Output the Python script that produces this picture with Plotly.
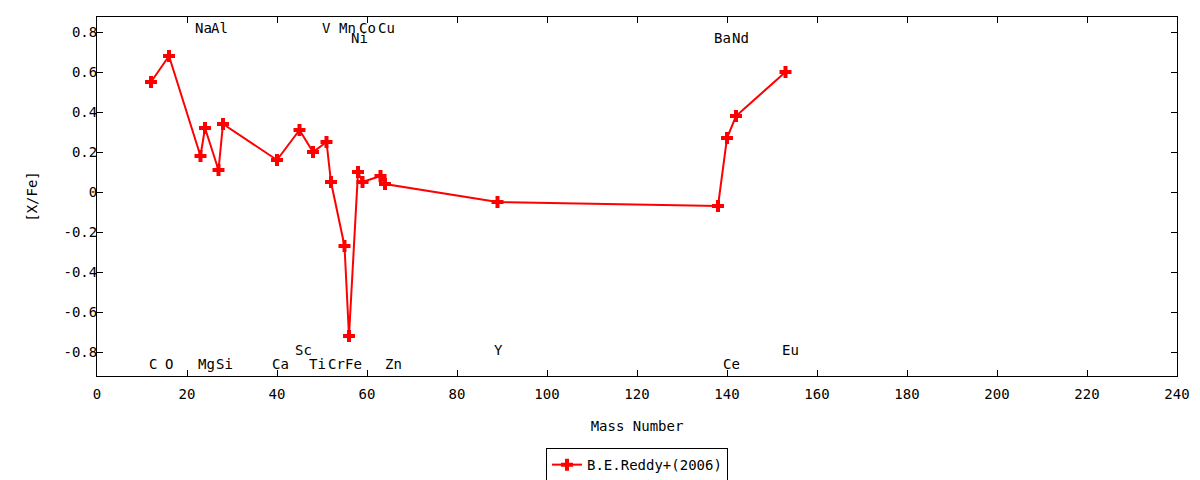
import plotly.graph_objects as go

# Data: mass number vs [X/Fe]
mass = [12, 16, 23, 24, 27, 28, 40, 45, 48, 51, 52, 55, 56, 58, 59, 63, 64, 89, 138, 140, 142, 153]
xfe = [0.55, 0.68, 0.18, 0.32, 0.11, 0.34, 0.16, 0.31, 0.20, 0.25, 0.05, -0.27, -0.72,
       0.10, 0.05, 0.08, 0.04, -0.05, -0.07, 0.27, 0.38, 0.60]

# Element labels
label_text = ["Na", "Al", "V", "Mn", "Co", "Cu",
              "Ni", "Ba", "Nd",
              "C", "O", "Mg", "Si", "Ca", "Ti", "Cr", "Fe", "Zn", "Ce",
              "Sc", "Y", "Eu"]
label_x = [23.6, 27.3, 51.1, 55.6, 60.0, 64.4,
           58.4, 138.9, 142.9,
           12.4, 16.0, 24.4, 28.4, 40.7, 49.0, 53.3, 57.0, 65.8, 141.1,
           45.8, 89.3, 154.2]
label_y = [0.82, 0.82, 0.82, 0.82, 0.82, 0.82,
           0.77, 0.77, 0.77,
           -0.86, -0.86, -0.86, -0.86, -0.86, -0.86, -0.86, -0.86, -0.86, -0.86,
           -0.79, -0.79, -0.79]

x_ticks = list(range(0, 241, 20))
y_ticks = [-0.8, -0.6, -0.4, -0.2, 0, 0.2, 0.4, 0.6, 0.8]
y_tick_text = ["-0.8", "-0.6", "-0.4", "-0.2", "0", "0.2", "0.4", "0.6", "0.8"]

FONT = "DejaVu Sans Mono"
FS = 14

fig = go.Figure()
fig.add_trace(go.Scatter(
    x=mass, y=xfe, mode="lines+markers", name="B.E.Reddy+(2006)",
    line=dict(color="#ff0000", width=2),
    marker=dict(symbol="cross", size=10, color="#ff0000"),
))

for t, lx, ly in zip(label_text, label_x, label_y):
    fig.add_annotation(x=lx, y=ly, text=t, showarrow=False,
                       xref="x", yref="y",
                       font=dict(family=FONT, size=FS, color="black"))

axis_common = dict(showline=True, linecolor="black", linewidth=1, mirror="ticks",
                   ticks="inside", ticklen=6, tickcolor="black", showgrid=False,
                   zeroline=False, tickfont=dict(family=FONT, size=FS, color="black"))

fig.update_xaxes(range=[0, 240], tickvals=x_ticks, ticklabelstandoff=5,
                 title=dict(text="Mass Number", font=dict(family=FONT, size=FS, color="black"), standoff=20),
                 **axis_common)
fig.update_yaxes(range=[-0.92, 0.875], tickvals=y_ticks, ticktext=y_tick_text,
                 ticklabelstandoff=-4,
                 title=dict(text="[X/Fe]", font=dict(family=FONT, size=FS, color="black"), standoff=22),
                 **axis_common)

fig.update_layout(
    width=1200, height=480,
    margin=dict(l=89, r=31, t=9, b=112, autoexpand=False),
    paper_bgcolor="white", plot_bgcolor="white",
    font=dict(family=FONT, size=FS, color="black"),
    showlegend=True,
    legend=dict(orientation="h", x=0.5, xanchor="center", y=-0.248, yanchor="middle",
                bordercolor="black", borderwidth=1, bgcolor="white",
                font=dict(family=FONT, size=FS, color="black")),
)

fig.write_html("out.html")
